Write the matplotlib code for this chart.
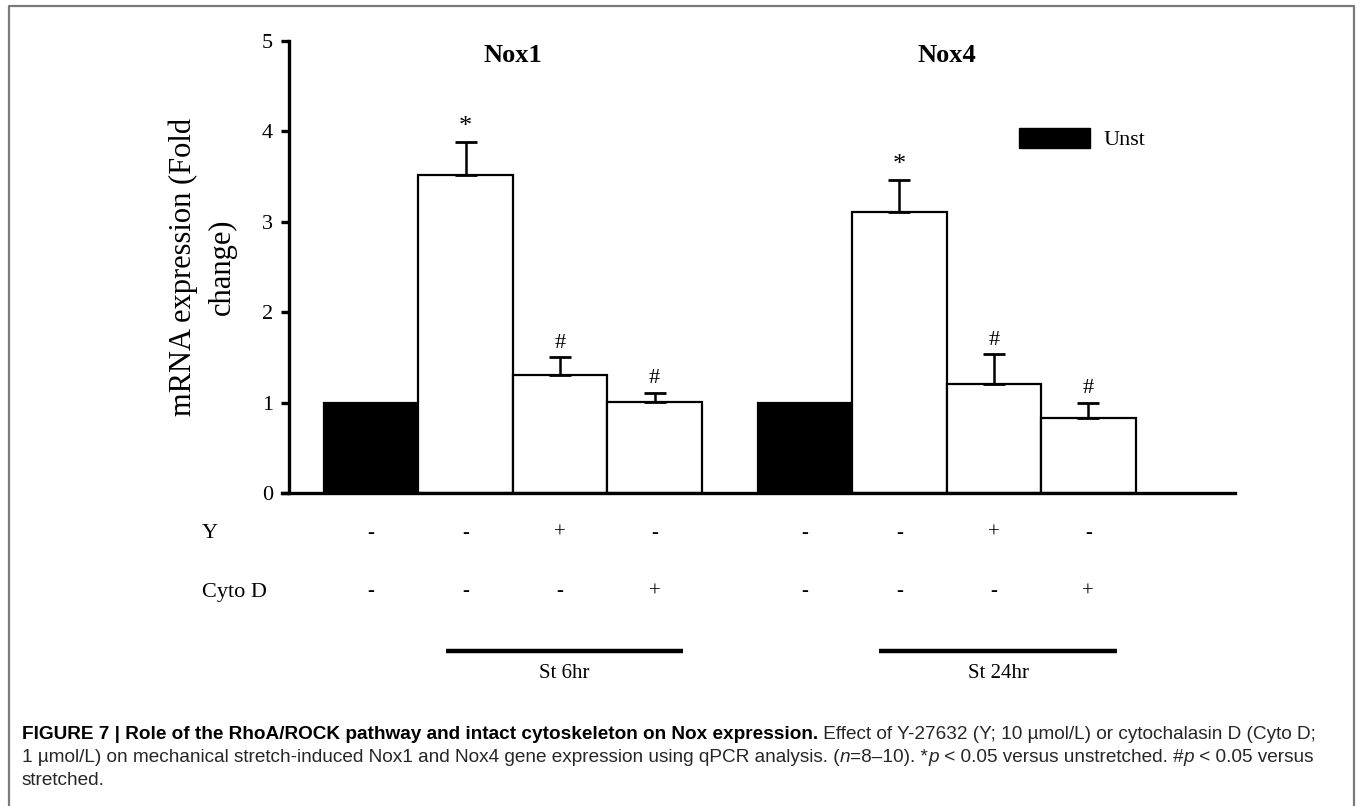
import numpy as np
import matplotlib
matplotlib.use("Agg")
import matplotlib.pyplot as plt
from matplotlib.patches import Patch
from matplotlib.lines import Line2D

# data
genes = ["Nox1", "Nox4"]
unst_label = "Unst"
nox1_mean = [1.0, 3.52, 1.30, 1.01]
nox1_err = [0.0, 0.36, 0.20, 0.10]
nox4_mean = [1.0, 3.11, 1.21, 0.83]
nox4_err = [0.0, 0.35, 0.33, 0.17]
nox1_marks = ["", "*", "#", "#"]
nox4_marks = ["", "*", "#", "#"]
y_row = ["-", "-", "+", "-"]
cyto_row = ["-", "-", "-", "+"]
stretch_labels = ["St 6hr", "St 24hr"]
yticks = [0, 1, 2, 3, 4, 5]

W, H = 1357, 806
SERIF = ["Liberation Serif", "DejaVu Serif"]
SANS = ["Liberation Sans", "DejaVu Sans"]

fig = plt.figure(figsize=(W / 100, H / 100), dpi=100)
fig.patch.set_facecolor("white")

# outer frame (open at the bottom)
frame = Line2D([9 / W, 9 / W, 1354 / W, 1354 / W], [0, 1 - 6 / H, 1 - 6 / H, 0],
               transform=fig.transFigure, color="#7a7a7a", lw=1.6)
fig.add_artist(frame)

ax = fig.add_axes([289 / W, 1 - 493 / H, (1235 - 289) / W, (493 - 41) / H])

group_gap = 1.59
pos1 = np.arange(4, dtype=float)
pos2 = np.arange(4, dtype=float) + 3 + group_gap
colors = ["black", "white", "white", "white"]

for pos, mean, err, marks in [(pos1, nox1_mean, nox1_err, nox1_marks),
                              (pos2, nox4_mean, nox4_err, nox4_marks)]:
    ax.bar(pos, mean, width=1.0, color=colors, edgecolor="black", linewidth=1.6, zorder=2)
    m = np.array(err) > 0
    ax.errorbar(pos[m], np.array(mean)[m], yerr=[np.zeros(m.sum()), np.array(err)[m]],
                fmt="none", ecolor="black", elinewidth=1.8, capsize=8, capthick=2.0, zorder=3)
    for x, v, e, s in zip(pos, mean, err, marks):
        if s:
            ax.annotate(s, (x, v + e), xytext=(0, 3), textcoords="offset points",
                        ha="center", va="bottom", family=SERIF,
                        fontsize=19 if s == "*" else 16)

ax.set_ylim(0, 5)
left = -(371 - 289) / 94.5
ax.set_xlim(left, left + 946 / 94.5)
ax.set_yticks(yticks)
ax.set_xticks([])
for lab in ax.get_yticklabels():
    lab.set_family(SERIF)
ax.tick_params(axis="y", labelsize=16, length=5.5, width=2.4, pad=6)
for sp in ["top", "right"]:
    ax.spines[sp].set_visible(False)
ax.spines["left"].set_linewidth(2.4)
ax.spines["bottom"].set_linewidth(2.4)
ax.spines["bottom"].set_bounds(left - 7 / 94.5, left + 946 / 94.5)

ax.set_ylabel("mRNA expression (Fold\nchange)", fontsize=22, family=SERIF,
              linespacing=1.45, ha="center", va="center", multialignment="center")
ax.yaxis.set_label_coords((203 - 289) / 946, 0.5)

# gene titles over group centres
for pos, g in zip([pos1, pos2], genes):
    ax.text(pos.mean(), 1 + (41 - 55) / 452, g, transform=ax.get_xaxis_transform(),
            ha="center", va="center", fontsize=19, fontweight="bold", family=SERIF)

# legend
ax.legend(handles=[Patch(facecolor="black", edgecolor="black")], labels=[unst_label],
          loc="center left", bbox_to_anchor=((1019 - 289) / 946, (493 - 139) / 452),
          frameon=False, prop={"family": SERIF, "size": 16},
          handlelength=3.2, handleheight=1.0, handletextpad=0.6,
          borderpad=0, borderaxespad=0)

# treatment table below the axis
tx = ax.get_xaxis_transform()
y_y = (493 - 533) / 452
y_c = (493 - 592) / 452
fig.text(202 / W, 1 - 533 / H, "Y", fontsize=16, family=SERIF, va="center", ha="left")
fig.text(202 / W, 1 - 592 / H, "Cyto D", fontsize=16, family=SERIF, va="center", ha="left")
for pos in [pos1, pos2]:
    for x, a, b in zip(pos, y_row, cyto_row):
        ax.text(x, y_y, a, transform=tx, ha="center", va="center", fontsize=15,
                family=SERIF, clip_on=False)
        ax.text(x, y_c, b, transform=tx, ha="center", va="center", fontsize=15,
                family=SERIF, clip_on=False)

y_line = (493 - 651) / 452
y_st = (493 - 674) / 452
for pos, lab in zip([pos1, pos2], stretch_labels):
    x0, x1 = pos[0] + 0.79, pos[0] + 3.3
    ax.add_line(Line2D([x0, x1], [y_line, y_line], transform=tx, color="black",
                       lw=3.2, clip_on=False, solid_capstyle="butt"))
    ax.text((x0 + x1) / 2, y_st, lab, transform=tx, ha="center", va="center",
            fontsize=15, family=SERIF, clip_on=False)

# caption with mixed styles
renderer = fig.canvas.get_renderer()


def draw_runs(x0, ybase, runs, size=13.7):
    x = x0
    for s, w, st in runs:
        t = fig.text(x / W, 1 - ybase / H, s, fontsize=size, fontweight=w, style=st,
                     family=SANS, va="baseline", ha="left",
                     color="black" if w == "bold" else "#262626")
        x += t.get_window_extent(renderer).width


N, B, I = "normal", "bold", "italic"
cap1 = [("FIGURE 7 | Role of the RhoA/ROCK pathway and intact cytoskeleton on Nox expression.", B, N),
        (" Effect of Y-27632 (Y; 10 \u00b5mol/L) or cytochalasin D (Cyto D;", N, N)]
cap2 = [("1 \u00b5mol/L) on mechanical stretch-induced Nox1 and Nox4 gene expression using qPCR analysis. (", N, N),
        ("n", N, I), ("=8\u201310). *", N, N), ("p", N, I),
        (" < 0.05 versus unstretched. #", N, N), ("p", N, I), (" < 0.05 versus", N, N)]
cap3 = [("stretched.", N, N)]
draw_runs(22, 739, cap1)
draw_runs(22, 762, cap2)
draw_runs(22, 785, cap3)

fig.savefig("out.png", dpi=100, facecolor="white")
